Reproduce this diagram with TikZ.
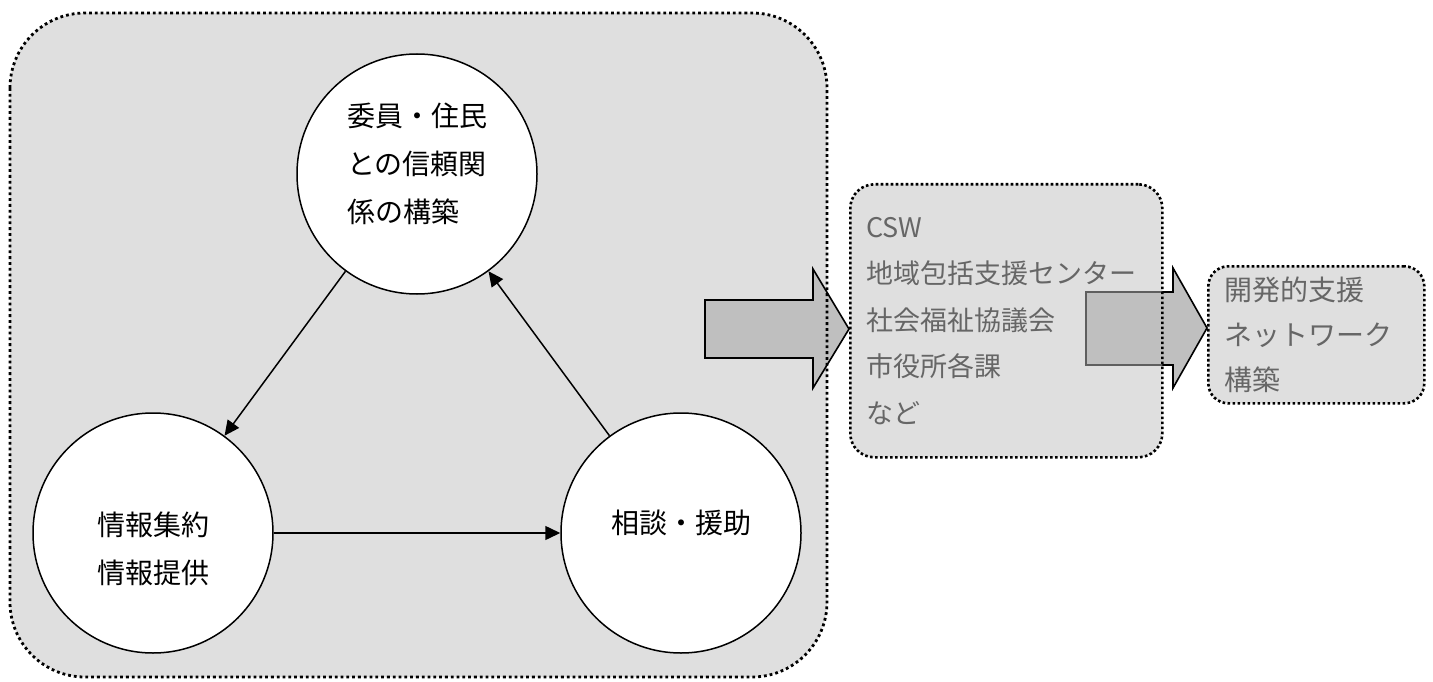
\documentclass[tikz,border=0pt]{standalone}
\usepackage{fontspec}
\setmainfont{Noto Sans CJK JP}
\usetikzlibrary{arrows.meta}
\definecolor{boxgray}{HTML}{DFDFDF}
\definecolor{arrowgray}{HTML}{BFBFBF}
\definecolor{txtgray}{HTML}{666666}
\tikzset{
  bigdots/.style={draw=black, line width=2.8pt, dash pattern=on 2.8pt off 3pt},
  smalldots/.style={draw=black, line width=2.6pt, dash pattern=on 2.6pt off 2.4pt},
  circ/.style={circle, draw=black, fill=white, line width=1.5pt, minimum size=240pt, inner sep=0pt},
  ctext/.style={align=left, inner sep=0pt, font=\fontsize{28}{48}\selectfont},
  conn/.style={line width=1.5pt, -{Triangle[length=15pt,width=14pt]}},
  bigarrow/.style={draw=black, fill=arrowgray, line width=1.6pt, line join=miter},
  boxtext/.style={align=left, text=txtgray, text opacity=1, font=\fontsize{27}{46.5}\selectfont}
}
\begin{document}
\begin{tikzpicture}[x=1pt,y=-1pt]
\useasboundingbox (0,0) rectangle (1433,682);
% outer box fill
\fill[boxgray, rounded corners=75pt] (10,13) rectangle (827,677);
% circles
\node[circ] (top) at (417,174) {};
\node[circ] (left) at (153,533) {};
\node[circ] (right) at (681,533) {};
\node[ctext] (ttop) at (417,164) {委員・住民\\との信頼関\\係の構築};
\node[ctext] (tleft) at (153,549) {情報集約\\情報提供};
\node[ctext] (tright) at (681,523) {相談・援助};
\draw[conn] (top) -- (left);
\draw[conn] (left) -- (right);
\draw[conn] (right) -- (top);
% big arrow 1
\draw[bigarrow] (705,300) -- (813,300) -- (813,269) -- (849,329) -- (813,388) -- (813,358) -- (705,358) -- cycle;
% outer box border
\draw[bigdots, rounded corners=75pt] (10,13) rectangle (827,677);
% big arrow 2
\draw[bigarrow] (1086,292) -- (1173,292) -- (1173,268) -- (1207,328) -- (1173,388) -- (1173,365) -- (1086,365) -- cycle;
% middle box (semi-transparent)
\node[smalldots, fill=arrowgray, fill opacity=0.5, draw opacity=1, rounded corners=24pt,
      minimum width=312pt, minimum height=273pt, text width=280pt, inner xsep=16pt, inner ysep=0pt,
      boxtext, anchor=north west] (mid) at (849,183)
      {CSW\\地域包括支援センター\\社会福祉協議会\\市役所各課\\など};
% right box
\node[smalldots, fill=boxgray, rounded corners=20pt,
      minimum width=216pt, minimum height=137pt, text width=184pt, inner xsep=16pt, inner ysep=0pt,
      boxtext, font=\fontsize{28}{45}\selectfont, anchor=north west] (dev) at (1207,265)
      {開発的支援\\ネットワーク\\構築};
\end{tikzpicture}
\end{document}
